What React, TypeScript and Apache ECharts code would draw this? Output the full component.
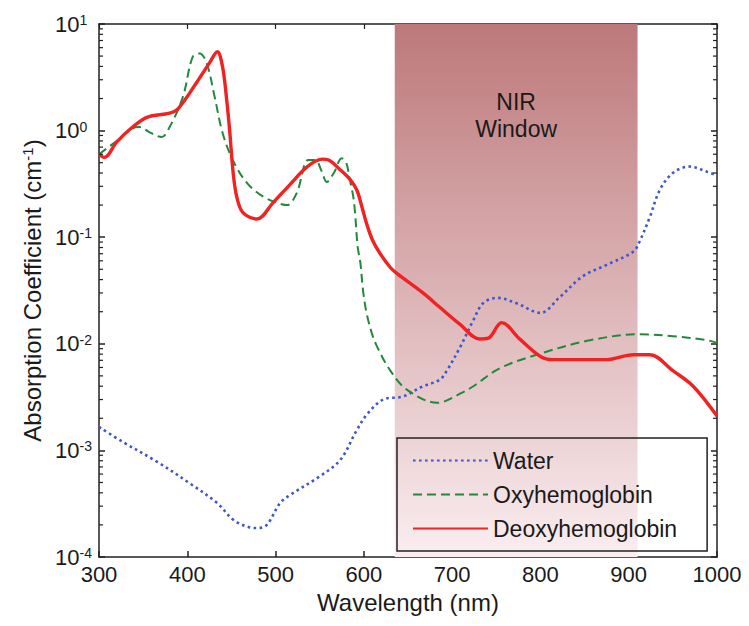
import React, { useEffect, useRef } from "react";
import * as echarts from "echarts";

// ---- data ----
const waterX = [300, 327, 366, 403, 434, 452, 470, 479, 490, 505, 516, 547, 573, 592, 604, 622, 644, 667, 686, 694, 709, 724, 735, 751, 773, 800, 822, 848, 875, 905, 912, 924, 935, 950, 969, 989, 1000];
const waterY = [0.00166, 0.0012, 0.00078, 0.00049, 0.00032, 0.000224, 0.00019, 0.000187, 0.0002, 0.00032, 0.00038, 0.00055, 0.00081, 0.00155, 0.0022, 0.003, 0.0032, 0.004, 0.0046, 0.0056, 0.0093, 0.0166, 0.024, 0.027, 0.024, 0.0195, 0.0275, 0.043, 0.055, 0.073, 0.09, 0.155, 0.275, 0.4, 0.46, 0.41, 0.38];

const oxyX = [300, 320, 338, 346, 356, 366, 371, 380, 395, 406, 414, 422, 431, 440, 452, 468, 486, 502, 513, 524, 537, 545, 552, 558, 566, 575, 580, 584, 588, 590, 593, 596, 599, 603, 609, 615, 630, 649, 683, 712, 724, 754, 800, 856, 913, 950, 989, 1000];
const oxyY = [0.6, 0.8, 1.05, 1.08, 0.98, 0.89, 0.87, 1.08, 2.07, 4.9, 5.3, 4.3, 2.07, 0.95, 0.52, 0.32, 0.24, 0.21, 0.2, 0.26, 0.53, 0.53, 0.42, 0.33, 0.4, 0.55, 0.5, 0.35, 0.24, 0.17, 0.081, 0.058, 0.032, 0.0196, 0.0126, 0.0094, 0.0056, 0.0037, 0.0028, 0.0035, 0.004, 0.0059, 0.0081, 0.0108, 0.0123, 0.0118, 0.0108, 0.0102];

const deoxyX = [300, 306, 320, 338, 355, 380, 390, 411, 425, 434, 440, 445, 448, 452, 456, 463, 479, 497, 516, 536, 553, 560, 573, 584, 592, 598, 603, 610, 618, 630, 637, 667, 686, 709, 731, 741, 756, 777, 800, 814, 875, 905, 924, 950, 973, 1000];
const deoxyY = [0.6, 0.56, 0.78, 1.08, 1.34, 1.46, 1.62, 2.86, 4.3, 5.5, 3.95, 1.82, 1.0, 0.4, 0.24, 0.17, 0.148, 0.21, 0.31, 0.46, 0.54, 0.53, 0.43, 0.35, 0.277, 0.19, 0.135, 0.093, 0.071, 0.052, 0.046, 0.03, 0.022, 0.0152, 0.0111, 0.0113, 0.0158, 0.011, 0.0076, 0.0071, 0.0071, 0.0079, 0.0079, 0.0056, 0.004, 0.0021];

const seriesNames = ["Water", "Oxyhemoglobin", "Deoxyhemoglobin"];
const xMin = 300;
const xMax = 1000;
const xStep = 100;
const yMin = 1e-4;
const yMax = 10;
const nirWindow = [635, 910];
const nirLabel = "NIR\nWindow";
const minorTickValues = [
  2e-4, 3e-4, 4e-4, 5e-4, 6e-4, 7e-4, 8e-4, 9e-4,
  2e-3, 3e-3, 4e-3, 5e-3, 6e-3, 7e-3, 8e-3, 9e-3,
  2e-2, 3e-2, 4e-2, 5e-2, 6e-2, 7e-2, 8e-2, 9e-2,
  0.2, 0.3, 0.4, 0.5, 0.6, 0.7, 0.8, 0.9,
  2, 3, 4, 5, 6, 7, 8, 9,
];

const FONT = "'Liberation Sans', Arial, Helvetica, sans-serif";
const TXT = "#1a1a1a";
const AX = "#222";

const zip = (xs: number[], ys: number[]) => xs.map((x, i) => [x, ys[i]]);

export default function App() {
  const ref = useRef<HTMLDivElement>(null);
  useEffect(() => {
    const chart = echarts.init(ref.current!, null, { renderer: "svg" });
    const axisLine = { show: true, lineStyle: { color: AX, width: 1.5 } };
    const option: any = {
      animation: false,
      backgroundColor: "#fff",
      grid: { left: 99, right: 32, top: 24, bottom: 69 },
      legend: {
        data: seriesNames,
        orient: "vertical",
        left: 397,
        top: 438,
        padding: [11, 30, 11, 15],
        itemGap: 11,
        itemWidth: 75,
        itemHeight: 20,
        borderColor: AX,
        borderWidth: 1.5,
        backgroundColor: "transparent",
        itemStyle: { opacity: 0 },
        textStyle: { fontSize: 23, color: TXT, fontFamily: FONT },
      },
      xAxis: [
        {
          type: "value",
          min: xMin,
          max: xMax,
          interval: xStep,
          position: "bottom",
          name: "Wavelength (nm)",
          nameLocation: "middle",
          nameGap: 33,
          nameTextStyle: { fontSize: 24, color: TXT, fontFamily: FONT },
          axisLine,
          axisTick: { inside: true, length: 6, lineStyle: { color: AX, width: 1.5 } },
          axisLabel: {
            fontSize: 22,
            margin: 6,
            color: TXT,
            fontFamily: FONT,
            formatter: (v: number) => String(v),
          },
          splitLine: { show: false },
        },
        {
          type: "value",
          min: xMin,
          max: xMax,
          interval: xStep,
          position: "top",
          axisLine,
          axisTick: { inside: true, length: 5, lineStyle: { color: AX, width: 1.2 } },
          axisLabel: { show: false },
          splitLine: { show: false },
        },
      ],
      yAxis: [
        {
          type: "log",
          logBase: 10,
          min: yMin,
          max: yMax,
          position: "left",
          name: "Absorption Coefficient (cm{s|-1})",
          nameLocation: "middle",
          nameGap: 55,
          nameRotate: 90,
          nameTextStyle: {
            fontSize: 24,
            color: TXT,
            fontFamily: FONT,
            rich: {
              s: { fontSize: 15, verticalAlign: "top", color: TXT, fontFamily: FONT },
            },
          },
          axisLine,
          axisTick: { inside: true, length: 6, lineStyle: { color: AX, width: 1.5 } },
          axisLabel: {
            align: "left",
            margin: 44,
            formatter: (v: number) => `{b|10}{s|${Math.round(Math.log10(v))}}`,
            rich: {
              b: { fontSize: 22, color: TXT, fontFamily: FONT, verticalAlign: "top" },
              s: { fontSize: 14, color: TXT, fontFamily: FONT, verticalAlign: "top" },
            },
          },
          splitLine: { show: false },
        },
        {
          type: "log",
          logBase: 10,
          min: yMin,
          max: yMax,
          position: "right",
          axisLine,
          axisTick: { inside: true, length: 6, lineStyle: { color: AX, width: 1.5 } },
          axisLabel: { show: false },
          splitLine: { show: false },
        },
      ],
      series: [
        {
          name: seriesNames[0],
          type: "line",
          data: zip(waterX, waterY),
          symbol: "none",
          smooth: 0.35,
          z: 3,
          lineStyle: { color: "#3b57cc", width: 2.6, type: [2.6, 3.4] },
          itemStyle: { color: "#3b57cc" },
          markArea: {
            silent: true,
            z: 1,
            itemStyle: {
              color: new echarts.graphic.LinearGradient(0, 0, 0, 1, [
                { offset: 0, color: "#bd787a" },
                { offset: 1, color: "#faeef0" },
              ]),
            },
            label: {
              show: true,
              position: "insideTop",
              distance: 64,
              fontSize: 23,
              lineHeight: 27,
              color: TXT,
              fontFamily: FONT,
              align: "center",
            },
            data: [[{ xAxis: nirWindow[0], name: nirLabel }, { xAxis: nirWindow[1] }]],
          },
        },
        {
          name: seriesNames[1],
          type: "line",
          data: zip(oxyX, oxyY),
          symbol: "none",
          smooth: 0.35,
          z: 4,
          lineStyle: { color: "#23883a", width: 2, type: [9, 5] },
          itemStyle: { color: "#23883a" },
        },
        {
          name: seriesNames[2],
          type: "line",
          data: zip(deoxyX, deoxyY),
          symbol: "none",
          smooth: 0.35,
          z: 5,
          lineStyle: { color: "#f02222", width: 3.4 },
          itemStyle: { color: "#f02222" },
        },
        {
          type: "custom",
          silent: true,
          z: 10,
          data: minorTickValues.map((v) => [xMin, v]),
          renderItem: (_p: any, api: any) => {
            const v = api.value(1);
            const pl = api.coord([xMin, v]);
            const pr = api.coord([xMax, v]);
            const st = { stroke: AX, lineWidth: 1.2 };
            return {
              type: "group",
              children: [
                { type: "line", shape: { x1: pl[0], y1: pl[1], x2: pl[0] + 4, y2: pl[1] }, style: st },
                { type: "line", shape: { x1: pr[0] - 4, y1: pr[1], x2: pr[0], y2: pr[1] }, style: st },
              ],
            };
          },
        },
      ],
    };
    chart.setOption(option);
    return () => chart.dispose();
  }, []);
  return (
    <div
      ref={ref}
      style={{ position: "fixed", left: 0, top: 0, width: 749, height: 626 }}
    />
  );
}
